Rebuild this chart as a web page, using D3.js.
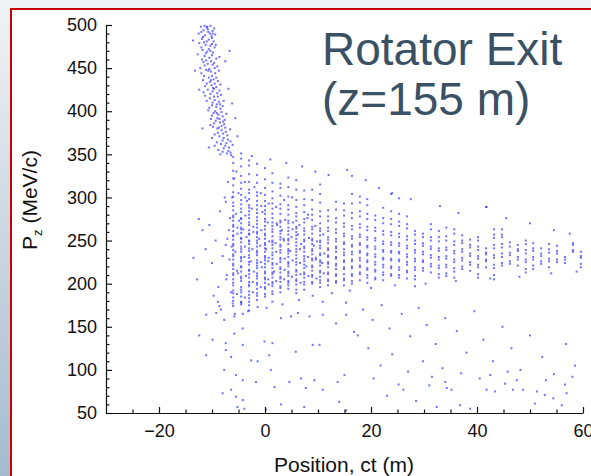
<!DOCTYPE html>
<html lang="en">
<head>
<meta charset="UTF-8">
<title>Rotator Exit</title>
<script src="https://cdn.jsdelivr.net/npm/d3@7"></script>
<style>
  body { margin: 0; }
  text { font-family: "Liberation Sans", Arial, sans-serif; }
</style>
</head>
<body>
<script>
// --- data ---
var xMajor = [-20, 0, 20, 40, 60];
var xMinor = [-25, -15, -10, -5, 5, 10, 15, 25, 30, 35, 45, 50, 55];
var yMajor = [50, 100, 150, 200, 250, 300, 350, 400, 450, 500];
var yMinor = [60, 70, 80, 90, 110, 120, 130, 140, 160, 170, 180, 190, 210, 220, 230, 240,
              260, 270, 280, 290, 310, 320, 330, 340, 360, 370, 380, 390, 410, 420, 430, 440,
              460, 470, 480, 490];

// high momentum tail [ct, pz]
var tailPts = [
 [-12.1,498],[-11.0,497],[-10.3,499],[-9.6,496],[-11.6,494],[-10.7,492],[-9.9,493],[-12.5,490],[-11.3,488],[-10.1,487],
 [-9.4,489],[-11.9,484],[-10.6,483],[-9.7,481],[-12.4,479],[-11.2,477],[-10.3,476],[-9.5,474],[-11.8,471],[-10.9,469],
 [-9.8,468],[-12.7,466],[-11.4,464],[-10.5,462],[-9.2,461],[-8.6,463],[-11.6,457],[-10.8,455],[-9.9,454],[-9.0,452],
 [-12.2,450],[-11.1,448],[-10.2,446],[-9.4,444],[-8.7,447],[-11.5,441],[-10.6,439],[-9.7,437],[-8.9,435],[-11.0,432],
 [-10.1,430],[-9.2,428],[-8.4,431],[-10.8,425],[-9.9,423],[-9.0,421],[-8.3,419],[-11.3,418],[-10.4,415],[-9.5,413],
 [-8.7,411],[-7.8,412],[-10.0,407],[-9.2,405],[-8.4,403],[-10.7,401],[-9.7,398],[-8.8,396],[-8.0,394],[-7.3,397],
 [-10.2,391],[-9.3,389],[-8.5,387],[-7.7,385],[-9.8,382],[-9.0,380],[-8.2,378],[-7.4,376],[-6.6,379],[-9.5,373],
 [-8.6,371],[-7.8,369],[-7.0,367],[-9.1,364],[-8.3,362],[-7.5,360],[-6.8,358],[-6.1,361],[-8.8,355],[-8.0,353],
 [-7.2,351],[-6.4,349],
 [-11.4,499],[-10.8,495],[-12.0,492],[-10.4,490],[-11.7,486],[-10.0,485],[-11.5,480],[-10.0,478],[-12.0,474],[-10.6,472],
 [-11.2,467],[-10.0,465],[-11.9,460],[-10.2,458],[-11.4,453],[-9.5,450],[-10.7,447],[-12.0,444],[-10.0,441],[-11.7,436],
 [-10.4,434],[-9.5,432],[-11.3,429],[-9.6,426],[-10.3,420],[-11.6,422],[-8.9,417],[-9.9,410],[-11.0,412],[-9.1,408],
 [-8.0,406],[-10.5,404],[-9.4,400],[-8.2,399],[-10.0,395],[-9.0,392],[-7.6,390],[-9.6,386],[-8.2,383],[-10.3,384],
 [-7.5,381],[-8.9,375],[-7.1,372],[-10.0,369],[-8.0,366],[-6.5,365],[-9.5,360],[-7.8,357],[-6.9,354],[-8.4,350],
 [-13.6,482],[-6.7,470],[-7.5,458],[-13.2,447],[-6.9,426],[-12.4,425],[-6.2,409],[-5.6,392],[-11.8,380],[-5.2,371],[-10.6,358],
 [-10.9,498],[-9.9,490],[-11.0,481],[-9.3,477],[-10.3,470],[-11.1,459],[-9.6,456],[-10.5,449],[-9.2,439],[-10.2,436],
 [-9.8,427],[-8.6,424],[-9.6,417],[-8.5,408],[-9.1,398],[-8.6,391],[-7.9,388],[-8.7,381],[-7.9,374],[-7.3,363]
];

// bunch columns of the core: centre ct and the pz of the particles in each
var colX = [-6.0,-4.5,-3.0,-1.5,0.0,1.4,2.9,4.4,5.9,7.4,8.9,10.4,11.9,13.4,14.9,16.4,17.9,19.3,20.8,22.3,23.8,25.3,
            26.8,28.3,29.8,31.3,32.8,34.2,35.7,37.2,38.7,40.2,41.7,43.2,44.7,46.2,47.7,49.2,50.6,52.1,53.6,55.1,56.6,58.1,59.6];
var colPz = [
 [174,180,184,189,192,198,201,205,210,212,217,221,223,228,232,234,239,244,246,251,255,256,261,266,268,273,277,279,285,290,294,301,306,314,322,331,340,347],
 [176,178,185,190,193,196,203,206,208,214,219,220,226,229,231,237,240,243,248,252,253,259,263,265,270,275,276,283,287,292,297,303,310,317,325,336,345,351],
 [179,183,187,191,197,199,202,207,211,215,216,222,225,230,233,238,241,246,249,250,257,258,262,268,271,276,280,284,288,291,298,305,309,318,327,337,343],
 [181,186,189,194,199,201,206,209,212,218,221,224,227,233,236,238,243,247,250,254,258,260,265,269,273,277,282,286,291,296,302,306,317,326,339],
 [185,188,194,196,201,205,207,212,214,219,223,227,230,232,237,241,245,247,252,256,258,263,267,272,275,281,285,290,296,303,311,321,334],
 [188,191,197,200,202,207,211,213,218,222,224,229,233,236,241,245,248,250,255,260,263,267,271,276,281,287,293,299,307,317,328],
 [190,195,197,202,206,208,213,217,219,225,228,230,236,239,243,245,251,254,258,261,266,271,273,281,287,292,302,311,316],
 [194,198,201,203,209,212,214,220,223,225,231,235,238,240,246,250,252,257,261,265,270,273,280,286,291,301,312,323],
 [189,193,199,203,205,210,214,216,222,225,229,233,237,240,244,248,252,256,260,264,266,273,278,282,289,297,309,320],
 [193,199,202,207,211,213,218,222,226,229,232,237,241,243,249,251,257,261,264,271,275,283,291,298,308],
 [200,202,208,210,215,219,221,227,229,234,238,240,246,250,252,258,263,266,274,280,286,297,309],
 [196,201,204,208,213,215,221,225,227,233,235,241,244,248,250,256,261,264,270,278,284,294,304,315],
 [198,203,205,211,213,219,223,225,231,233,239,241,247,251,254,261,265,273,278,285],
 [201,203,209,211,217,221,223,229,231,237,241,243,249,252,259,263,271,276,286,295],
 [198,204,206,211,217,219,225,227,233,236,240,246,248,255,258,266,270,279,285,293],
 [200,203,209,211,218,220,226,228,234,237,243,245,252,255,263,267,276,282,293,304,325],
 [204,211,213,219,221,227,230,236,238,245,247,254,257,265,269,278,284,294,301],
 [201,207,210,216,218,225,227,233,235,242,244,251,254,262,266,275,281,291,298],
 [205,207,214,216,222,225,231,234,240,243,250,253,261,265,274,279],
 [204,210,213,219,222,228,230,237,239,246,249,257,261,270,276,288],
 [209,211,218,220,227,229,236,238,245,248,256,260,269,275,284,304],
 [207,210,216,219,226,228,235,237,244,247,254,258,267,272,281,299],
 [206,213,215,222,225,231,234,241,244,251,255,264,269,278],
 [197,205,209,216,219,226,229,236,239,246,250,257,261],
 [215,218,225,227,234,237,244,247,254,258],
 [213,220,223,230,233,240,243,250,254,263,269],
 [207,211,218,221,228,231,238,241,249,254,261],
 [209,212,219,222,229,232,239,242,250,255,265],
 [207,214,218,225,228,235,238,245,249,258,263],
 [217,220,227,230,237,240,247,250,256],
 [215,222,225,232,235,242,245,251],
 [207,211,219,222,229,232,239,243,250,254],
 [219,226,228,234,236,241,289],
 [205,210,218,222,230,233,241,245,253,257,263],
 [221,224,231,235,242,246,254,257,263],
 [223,226,233,236,243,248],
 [221,228,231,238,240,245],
 [213,217,225,228,235,239,246,250],
 [217,221,228,231,238,241,247],
 [223,226,232,235,241],
 [219,226,229,236,240,246],
 [225,228,235,238,244],
 [224,228,231],
 [237,239,245,247],
 [219,223,230,232,237]
];

// smeared particles between the first bunches
var fuzzPts = [
 [-7.3,205],[-6.7,228],[-7.1,252],[-6.6,276],[-7.4,295],[-5.3,188],[-5.1,212],[-5.6,237],[-5.2,258],[-5.5,281],
 [-5.0,305],[-5.8,322],[-3.8,184],[-3.6,209],[-3.9,231],[-3.5,254],[-3.7,279],[-3.4,296],[-3.8,318],[-2.3,190],
 [-2.1,214],[-2.4,240],[-2.2,266],[-2.5,287],[-2.0,312],[-0.8,196],[-0.6,219],[-0.9,244],[-0.7,262],[-0.5,283],
 [-0.8,305],[0.7,199],[0.6,226],[0.8,249],[0.5,271],[0.7,293],[2.1,203],[2.2,223],[2.0,247],[2.3,268],
 [2.1,289],[3.6,205],[3.7,229],[3.5,252],[3.8,274],[3.6,297],[5.1,208],[5.2,227],[5.0,254],[5.3,271],
 [6.7,201],[6.6,224],[6.8,246],[6.5,268],[8.2,209],[8.1,231],[8.3,253],[8.0,276],[9.7,206],[9.6,228],
 [9.8,249],[9.5,267],[11.1,212],[11.2,235],[11.0,257],[-6.4,190],[-6.3,243],[-6.2,300],[-4.9,273],[-4.1,263],
 [-2.7,226],[-1.1,252],[0.2,240],[1.7,214],[3.2,262],[4.8,238],[6.2,257],[7.8,220],[9.2,244],[10.8,224]
];

// loose particles around the core
var haloPts = [
 [-12.5,275],[-11.8,262],[-10.5,268],[-9.3,250],[-8.5,284],[-8.0,232],[-7.6,300],[-7.2,210],[-8.8,196],[-10.0,224],
 [-11.2,240],[-7.0,318],[-6.8,262],[-7.4,245],[-5.4,330],[-5.2,265],[-3.7,300],[-2.2,260],[-0.7,290],[0.7,230],
 [2.2,270],[3.6,250],[5.1,300],[6.6,240],[8.1,280],[9.6,230],[-5.3,215],[-3.8,243],[-2.3,202],[-0.8,225],
 [0.6,205],[2.1,237],[3.7,216],[5.2,263],[6.7,211],[-9.7,186],[-12.8,205],[-13.5,230],[-6.5,352],[-2.5,348],
 [1.0,344],[4.0,340],[7.0,336],[9.5,330],[12.0,326],[15.5,332],[19.0,320],[21.5,311],[24.0,305],[27.5,298],
 [33.0,290],[36.5,282],[41.8,289],[45.5,276],[50.0,270],[54.5,262],[57.5,258],[-8.3,170],[-5.7,165],[-3.2,168],
 [0.3,172],[3.3,176],[6.4,181],[9.0,186],[12.6,189],[16.0,192],[20.0,195],[24.5,198],[30.3,200],[36.0,203],
 [42.5,206],[48.0,208],[54.0,212],[58.8,214]
];

// low momentum particles
var lowPts = [
 [-8.9,179],[-8.6,174],[-6.1,177],[-4.5,179],[-3.0,175],[-1.4,173],[1.4,179],[10.9,179],[15.3,178],[-11.1,164],
 [-9.2,166],[-7.7,158],[-5.8,162],[-4.2,165],[-3.0,169],[3.0,160],[4.9,162],[6.2,166],[8.4,162],[10.9,164],
 [13.4,154],[15.3,164],[16.8,144],[-12.4,140],[-9.9,135],[-7.4,131],[-5.8,142],[-4.2,148],[-0.1,133],[1.4,131],
 [5.8,121],[9.0,129],[10.3,129],[-11.1,117],[-7.4,123],[-6.4,115],[-4.2,129],[-2.6,111],[-1.4,110],[0.8,117],
 [1.1,100],[-7.7,100],[-5.5,94],[-4.2,88],[-1.7,86],[1.8,80],[4.6,86],[6.8,90],[7.7,79],[9.3,88],
 [10.9,77],[13.7,86],[15.0,94],[-8.0,73],[-6.4,77],[-5.5,69],[-4.2,65],[-5.2,57],[-3.9,55],[0.2,54],
 [3.0,60],[7.4,57],[14.0,63],[15.3,53],
 [25.2,83],[26.1,77],[34.0,86],[35.2,77],[36.8,59],[38.7,55],[41.8,77],[43.4,75],[45.3,84],[46.8,77],
 [48.7,77],[51.3,75],[52.8,71],[54.4,67],[56.6,83],[56.9,73],[56.0,59],[50.9,61],[32.4,57],[34.3,79],
 [18.5,170],[20.3,158],[22.0,175],[23.5,148],[25.8,165],[27.4,139],[29.0,172],[30.5,152],[32.2,130],[34.0,160],
 [36.2,145],[38.0,120],[39.5,168],[41.2,135],[43.0,110],[44.8,150],[46.5,125],[48.2,100],[50.0,140],[52.3,115],
 [54.5,95],[56.8,130],[58.5,105],[19.5,125],[21.8,105],[24.0,118],[27.0,98],[29.8,110],[31.5,92],[33.5,102],
 [37.0,96],[40.5,90],[42.5,94],[45.8,98],[47.5,88],[53.0,88],[58.0,92],[17.5,140],[20.5,90],[23.0,70],
 [28.5,64],[31.0,82]
];

// --- drawing ---
var width = 591, height = 476;
var svg = d3.select("body").append("svg").attr("width", width).attr("height", height);

var grad = svg.append("defs").append("linearGradient")
  .attr("id", "bg").attr("x1", 0).attr("y1", 0).attr("x2", 0).attr("y2", 1);
grad.append("stop").attr("offset", "0%").attr("stop-color", "#f0f3f6");
grad.append("stop").attr("offset", "100%").attr("stop-color", "#a6bbce");

svg.append("rect").attr("width", width).attr("height", height).attr("fill", "url(#bg)");
svg.append("rect").attr("x", 11).attr("y", 9).attr("width", 600).attr("height", 500)
  .attr("fill", "white").attr("stroke", "#c80000").attr("stroke-width", 2);

var x = d3.scaleLinear().domain([-30, 60]).range([106, 583]);
var y = d3.scaleLinear().domain([50, 500]).range([413, 25]);

// points
var allPts = tailPts.concat(fuzzPts, haloPts, lowPts);
colX.forEach(function(cx, i) {
  colPz[i].forEach(function(p) { allPts.push([cx, p]); });
});

svg.append("g").selectAll("rect").data(allPts).enter().append("rect")
  .attr("x", function(d) { return x(d[0]) - 1; })
  .attr("y", function(d) { return y(d[1]) - 1; })
  .attr("width", 2).attr("height", 2)
  .attr("fill", "#1c1cff").attr("fill-opacity", 0.62);

// axes
svg.append("g").attr("transform", "translate(0,413)")
  .call(d3.axisBottom(x).tickValues(xMajor).tickSize(-6).tickSizeOuter(0).tickPadding(11));
svg.append("g").attr("transform", "translate(0,413)")
  .call(d3.axisBottom(x).tickValues(xMinor).tickSize(-3.5).tickFormat("")).select(".domain").remove();

svg.append("g").attr("transform", "translate(106,0)")
  .call(d3.axisLeft(y).tickValues(yMajor).tickSize(-6).tickSizeOuter(0).tickPadding(9));
svg.append("g").attr("transform", "translate(106,0)")
  .call(d3.axisLeft(y).tickValues(yMinor).tickSize(-3.5).tickFormat("")).select(".domain").remove();

svg.selectAll(".domain, .tick line").attr("stroke", "#111").attr("stroke-width", 1.2);
svg.selectAll(".tick text").attr("font-family", "Liberation Sans, Arial, sans-serif")
  .attr("font-size", 18).attr("fill", "#111");

// axis titles
svg.append("text").text("Position, ct (m)")
  .attr("x", 344).attr("y", 472).attr("text-anchor", "middle")
  .attr("font-size", 21).attr("fill", "#111");

var yt = svg.append("text").attr("transform", "translate(37,200) rotate(-90)")
  .attr("text-anchor", "middle").attr("font-size", 21).attr("fill", "#111");
yt.append("tspan").text("P");
yt.append("tspan").text("z").attr("font-size", 13).attr("dy", 5);
yt.append("tspan").text(" (MeV/c)").attr("dy", -5);

// title
svg.append("text").text("Rotator Exit").attr("x", 322).attr("y", 65)
  .attr("font-size", 46).attr("fill", "#3a5064");
svg.append("text").text("(z=155 m)").attr("x", 322).attr("y", 115)
  .attr("font-size", 46).attr("fill", "#3a5064");
</script>
</body>
</html>
